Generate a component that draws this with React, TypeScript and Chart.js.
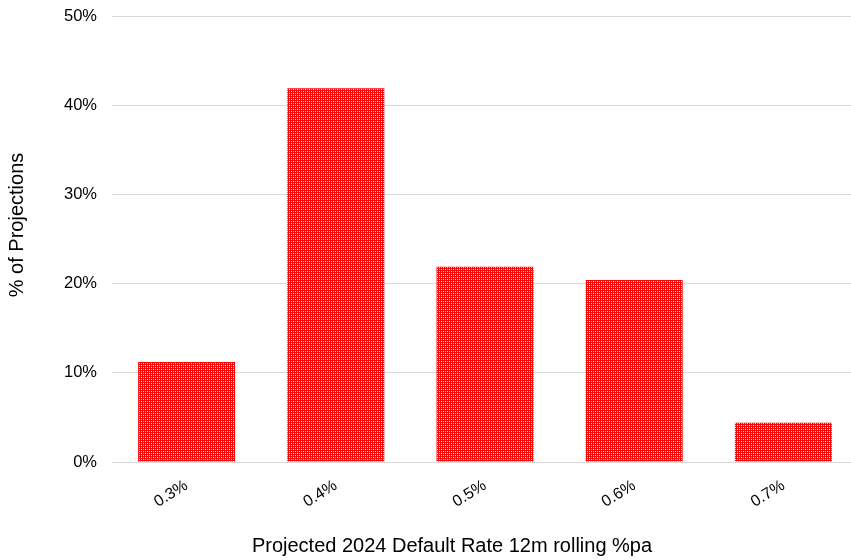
import React, { useEffect, useRef } from "react";
import { Chart, registerables } from "chart.js";

Chart.register(...registerables);

const categories = ["0.3%", "0.4%", "0.5%", "0.6%", "0.7%"];
const shares = [11.2, 41.9, 21.9, 20.4, 4.4];
const yTicks = [0, 10, 20, 30, 40, 50];
const xTitle = "Projected 2024 Default Rate 12m rolling %pa";
const yTitle = "% of Projections";

function makePattern(): CanvasPattern | string {
  const c = document.createElement("canvas");
  c.width = 4;
  c.height = 4;
  const g = c.getContext("2d");
  if (!g) return "#ff0000";
  g.fillStyle = "#ff0000";
  g.fillRect(0, 0, 4, 4);
  g.fillStyle = "#ffffff";
  g.fillRect(1, 1, 1, 1);
  g.fillStyle = "#ff9a9a";
  g.fillRect(3, 1, 1, 1);
  g.fillRect(1, 3, 1, 1);
  g.fillStyle = "#ffd0d0";
  g.fillRect(3, 3, 1, 1);
  const p = g.createPattern(c, "repeat");
  return p || "#ff0000";
}

const FONT = "'Liberation Sans', Arial, sans-serif";

export default function App() {
  const ref = useRef<HTMLCanvasElement>(null);
  useEffect(() => {
    if (!ref.current) return;
    const titlesPlugin = {
      id: "titlesPlugin",
      afterDraw(chart: any) {
        const ctx = chart.ctx;
        ctx.save();
        ctx.font = `20px ${FONT}`;
        ctx.fillStyle = "#000000";
        ctx.textAlign = "center";
        ctx.textBaseline = "middle";
        ctx.fillText(xTitle, 452, 546);
        ctx.translate(17, 225);
        ctx.rotate(-Math.PI / 2);
        ctx.fillText(yTitle, 0, 0);
        ctx.restore();
      },
    };
    const chart = new Chart(ref.current, {
      type: "bar",
      data: {
        labels: categories,
        datasets: [
          {
            data: shares,
            backgroundColor: makePattern() as any,
            borderWidth: 0,
            categoryPercentage: 1,
            barPercentage: 0.65,
          },
        ],
      },
      options: {
        animation: false,
        responsive: false,
        maintainAspectRatio: false,
        layout: { padding: { top: 16, right: 0, left: 0, bottom: 0 } },
        plugins: { legend: { display: false }, tooltip: { enabled: false } },
        scales: {
          x: {
            grid: { display: false, drawTicks: false },
            border: { display: false },
            ticks: {
              minRotation: 32,
              maxRotation: 32,
              color: "#000000",
              font: { family: FONT, size: 16 },
              padding: 14,
            },
            afterFit: (s: any) => {
              s.height = 98;
              s.paddingLeft = 0;
              s.paddingRight = 0;
            },
          },
          y: {
            min: 0,
            max: 50,
            afterBuildTicks: (s: any) => {
              s.ticks = yTicks.map((v) => ({ value: v }));
            },
            grid: { color: "#d9d9d9", drawTicks: false, lineWidth: 1 },
            border: { display: false },
            ticks: {
              color: "#000000",
              font: { family: FONT, size: 16.5 },
              padding: 15,
              callback: (v: any) => `${v}%`,
            },
            afterFit: (s: any) => {
              s.width = 112;
              s.paddingTop = 0;
              s.paddingBottom = 0;
            },
          },
        },
      },
      plugins: [titlesPlugin],
    });
    return () => chart.destroy();
  }, []);
  return (
    <div
      style={{
        position: "absolute",
        left: 0,
        top: 0,
        width: 851,
        height: 560,
        overflow: "hidden",
        background: "#ffffff",
      }}
    >
      <canvas ref={ref} width={858} height={560} style={{ display: "block" }} />
    </div>
  );
}
